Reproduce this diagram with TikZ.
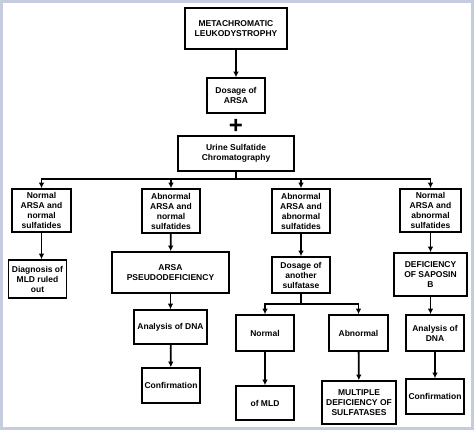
\documentclass[tikz,border=0pt]{standalone}
\usepackage{fontspec}
\setmainfont{Liberation Sans}
\usetikzlibrary{arrows.meta}
\definecolor{framecol}{RGB}{198,204,224}

\begin{document}
\begin{tikzpicture}[x=1pt,y=-1pt,
  box/.style={rectangle,draw,line width=1.6pt,align=center,inner sep=1pt,
    font=\fontsize{8.5}{10}\selectfont\bfseries},
  link/.style={line width=1.8pt},
  arr/.style={link,-{Latex[length=5.5pt,width=5.5pt]}}]
\useasboundingbox (0,0) rectangle (474,430);
\fill[framecol] (0,0) rectangle (474,430);
\fill[white] (3,3) rectangle (471,427);

\node [box,minimum width=102pt,minimum height=41pt] (mld) at (236,28.5) {METACHROMATIC\\LEUKODYSTROPHY};
\node [box,minimum width=58pt,minimum height=35pt] (arsa) at (236,95.5) {Dosage of\\ARSA};
\node [font=\fontsize{24}{24}\selectfont\bfseries] (plus) at (236,126) {+};
\node [box,minimum width=116pt,minimum height=35pt] (urine) at (236,153.5) {Urine Sulfatide\\Chromatography};

\node [box,minimum width=59pt,minimum height=43pt] (nn) at (41.5,210.5) {Normal\\ARSA and\\normal\\sulfatides};
\node [box,minimum width=58pt,minimum height=44pt] (an) at (171,211) {Abnormal\\ARSA and\\normal\\sulfatides};
\node [box,minimum width=58pt,minimum height=44pt] (aa) at (301,211) {Abnormal\\ARSA and\\abnormal\\sulfatides};
\node [box,minimum width=61pt,minimum height=43pt] (na) at (430.5,210.5) {Normal\\ARSA and\\abnormal\\sulfatides};

\node [box,minimum width=58pt,minimum height=38pt] (out) at (37.5,279) {Diagnosis of\\MLD ruled\\out};
\node [box,minimum width=117pt,minimum height=41pt] (pseudo) at (170.5,272.5) {ARSA\\PSEUDODEFICIENCY};
\node [box,minimum width=58pt,minimum height=36pt] (other) at (301,275) {Dosage of\\another\\sulfatase};
\node [box,minimum width=73pt,minimum height=43pt] (saposin) at (430.5,274.5) {DEFICIENCY\\OF SAPOSIN\\B};

\node [box,minimum width=73pt,minimum height=34pt] (dnaA) at (170.5,327) {Analysis of DNA};
\node [box,minimum width=58pt,minimum height=36pt] (normal) at (265,333) {Normal};
\node [box,minimum width=59pt,minimum height=36pt] (abnormal) at (358.5,333) {Abnormal};
\node [box,minimum width=58pt,minimum height=36pt] (dnaB) at (435,333) {Analysis of\\DNA};

\node [box,minimum width=58pt,minimum height=35pt] (confA) at (171,385.5) {Confirmation};
\node [box,minimum width=58pt,minimum height=34pt] (ofmld) at (265,403) {of MLD};
\node [box,minimum width=74pt,minimum height=43pt] (multi) at (359,402.5) {MULTIPLE\\DEFICIENCY OF\\SULFATASES};
\node [box,minimum width=58pt,minimum height=35pt] (confB) at (435,396.5) {Confirmation};

\draw [arr] (mld) -- (arsa);

\coordinate (bar) at (236,179.3);
\draw [link] (urine.south) -- (bar);
\foreach \n in {nn,an,aa,na}
  \draw [arr] (bar) -| (\n.north);

\draw [arr] (nn.south) -- (nn.south |- out.north);
\draw [arr] (an) -- (pseudo);
\draw [arr] (pseudo) -- (dnaA);
\draw [arr] (dnaA) -- (confA);
\draw [arr] (aa) -- (other);
\draw [arr] (na) -- (saposin);
\draw [arr] (saposin.south) -- (saposin.south |- dnaB.north);
\draw [arr] (dnaB) -- (confB);

\coordinate (bar2) at (301,304);
\draw [link] (other.south) -- (bar2);
\foreach \n in {normal,abnormal}
  \draw [arr] (bar2) -| (\n.north);
\draw [arr] (normal) -- (ofmld);
\draw [arr] (abnormal) -- (multi);
\end{tikzpicture}
\end{document}
